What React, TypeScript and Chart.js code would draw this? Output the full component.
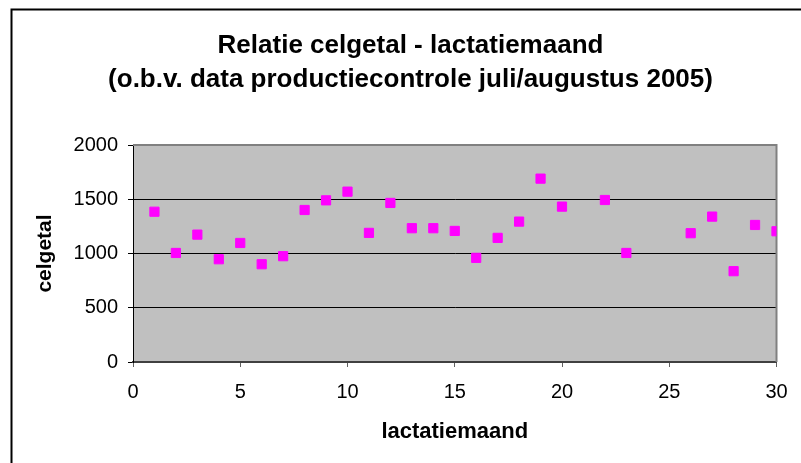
import React, { useEffect, useRef } from "react";
import { Chart, registerables } from "chart.js";

Chart.register(...registerables);

const months = [1, 2, 3, 4, 5, 6, 7, 8, 9, 10, 11, 12, 13, 14, 15, 16, 17, 18, 19, 20, 22, 23, 26, 27, 28, 29, 30];
const celgetal = [1385, 1005, 1174, 947, 1097, 901, 975, 1401, 1490, 1570, 1190, 1466, 1233, 1233, 1208, 960, 1144, 1294, 1690, 1432, 1493, 1005, 1187, 1340, 837, 1263, 1205];
const titleLines = ["Relatie celgetal - lactatiemaand", "(o.b.v. data productiecontrole juli/augustus 2005)"];
const xTitle = "lactatiemaand";
const yTitle = "celgetal";
const xMin = 0, xMax = 30, xStep = 5;
const yMin = 0, yMax = 2000, yStep = 500;

const FONT = "'Liberation Sans', Arial, Helvetica, sans-serif";

const framePlugin = {
  id: "frame",
  beforeDraw(chart: any) {
    const { ctx, width, height, chartArea } = chart;
    ctx.save();
    ctx.fillStyle = "#ffffff";
    ctx.fillRect(0, 0, width, height);
    ctx.strokeStyle = "#000000";
    ctx.lineWidth = 2;
    ctx.strokeRect(11.5, 9.5, width + 20, height + 20);
    ctx.fillStyle = "#c0c0c0";
    ctx.fillRect(chartArea.left, chartArea.top, chartArea.right - chartArea.left, chartArea.bottom - chartArea.top);
    ctx.restore();
  },
  beforeDatasetsDraw(chart: any) {
    const { ctx, chartArea } = chart;
    ctx.save();
    ctx.strokeStyle = "#808080";
    ctx.lineWidth = 2;
    ctx.beginPath();
    ctx.moveTo(chartArea.left, chartArea.top);
    ctx.lineTo(chartArea.right, chartArea.top);
    ctx.lineTo(chartArea.right, chartArea.bottom);
    ctx.stroke();
    ctx.restore();
  },
};

export default function App() {
  const ref = useRef<HTMLCanvasElement>(null);
  useEffect(() => {
    if (!ref.current) return;
    const chart = new Chart(ref.current, {
      type: "scatter",
      data: {
        datasets: [
          {
            label: yTitle,
            data: months.map((m, i) => ({ x: m, y: celgetal[i] })),
            pointStyle: "rect",
            pointRadius: 6.5,
            pointHoverRadius: 6.5,
            backgroundColor: "#ff00ff",
            borderColor: "#ff00ff",
            borderWidth: 1,
          },
        ],
      },
      options: {
        animation: false,
        responsive: false,
        layout: { padding: { left: 20, right: 0, top: 0, bottom: 0 } },
        plugins: {
          legend: { display: false },
          tooltip: { enabled: false },
          title: {
            display: true,
            text: titleLines,
            color: "#000000",
            font: { family: FONT, size: 26, weight: "bold", lineHeight: 34 / 26 },
            padding: { top: 29, bottom: 48 },
          },
        },
        scales: {
          x: {
            type: "linear",
            min: xMin,
            max: xMax,
            afterFit: (s: any) => { s.height = 101; },
            ticks: {
              stepSize: xStep,
              color: "#000000",
              font: { family: FONT, size: 20 },
              padding: 13,
              maxRotation: 0,
              callback: (v: any) => String(v),
            },
            grid: {
              display: true,
              drawOnChartArea: false,
              drawTicks: true,
              tickLength: 5,
              tickColor: "#606060",
            },
            border: { display: true, color: "#404040", width: 2 },
            title: {
              display: true,
              text: xTitle,
              color: "#000000",
              font: { family: FONT, size: 22, weight: "bold", lineHeight: 1.2 },
              padding: { top: 0, bottom: 18 },
            },
          },
          y: {
            type: "linear",
            min: yMin,
            max: yMax,
            afterFit: (s: any) => { s.width = 113; },
            ticks: {
              stepSize: yStep,
              color: "#000000",
              font: { family: FONT, size: 20 },
              padding: 10,
              callback: (v: any) => String(v),
            },
            grid: {
              display: true,
              drawOnChartArea: true,
              drawTicks: true,
              tickLength: 5,
              tickColor: "#000000",
              color: (c: any) => (c.tick && (c.tick.value === yMax || c.tick.value === yMin) ? "rgba(0,0,0,0)" : "#000000"),
              lineWidth: 1,
            },
            border: { display: true, color: "#000000", width: 1 },
            title: {
              display: true,
              text: yTitle,
              color: "#000000",
              font: { family: FONT, size: 21, weight: "bold", lineHeight: 1.2 },
              padding: { top: 13, bottom: 0 },
            },
          },
          y2: {
            type: "linear",
            position: "right",
            display: true,
            afterFit: (s: any) => { s.width = 24.5; },
            ticks: { display: false },
            grid: { display: false },
            border: { display: false },
            title: { display: false },
          },
        },
      },
      plugins: [framePlugin],
    } as any);
    return () => chart.destroy();
  }, []);
  return (
    <div style={{ position: "fixed", left: 0, top: 0, width: 801, height: 463 }}>
      <canvas ref={ref} width={801} height={463} style={{ width: 801, height: 463 }} />
    </div>
  );
}
